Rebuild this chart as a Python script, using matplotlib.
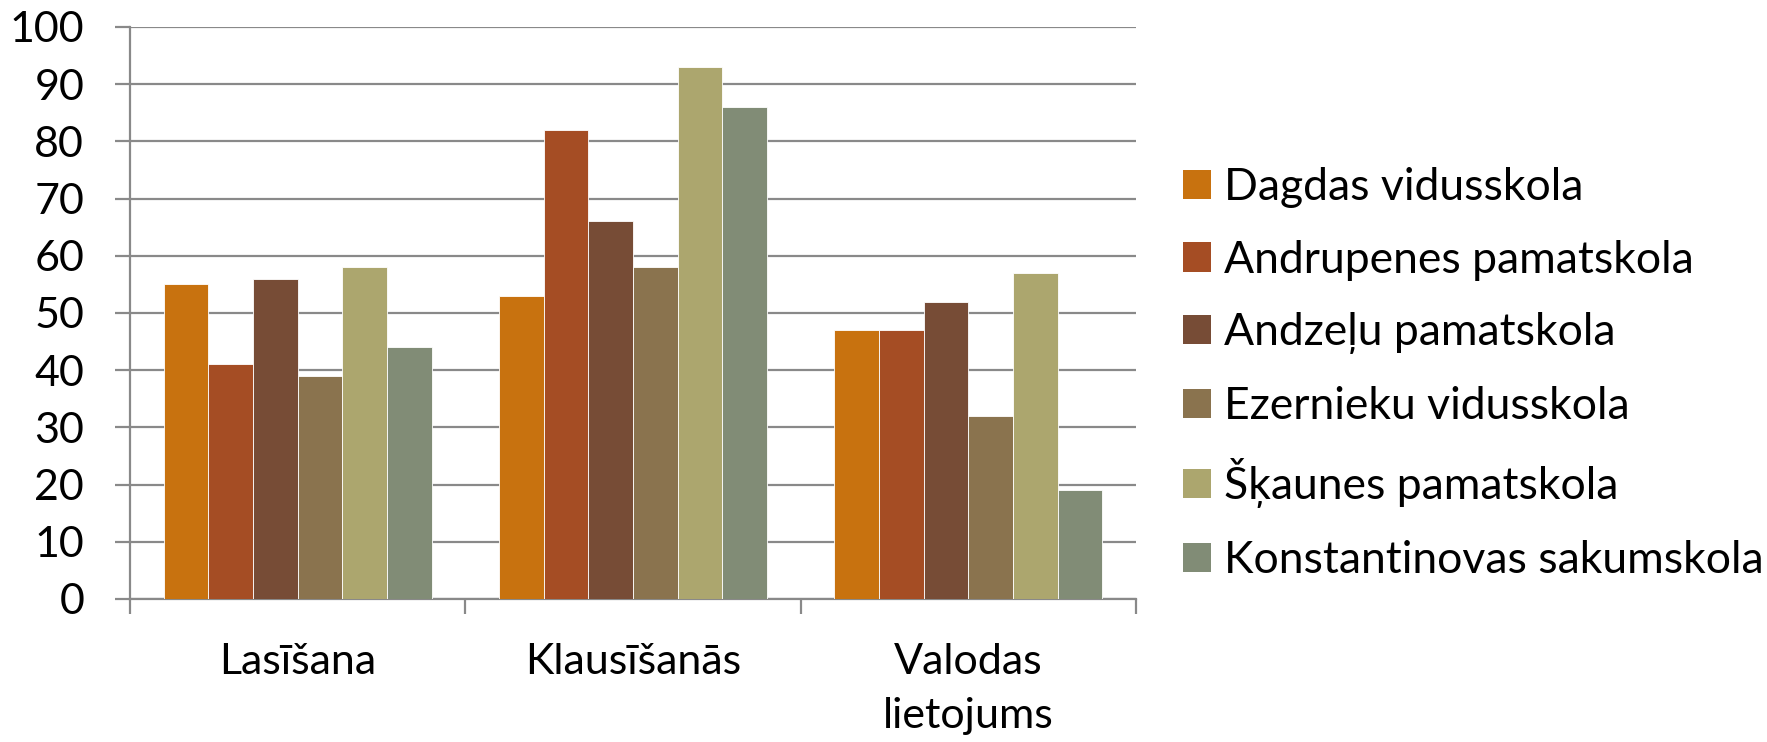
import matplotlib
matplotlib.use("Agg")
import matplotlib.pyplot as plt
from matplotlib.patches import Patch
import numpy as np

categories = ["Lasīšana", "Klausīšanās", "Valodas\nlietojums"]
schools = ["Dagdas vidusskola", "Andrupenes pamatskola", "Andzeļu pamatskola",
           "Ezernieku vidusskola", "Šķaunes pamatskola", "Konstantinovas sakumskola"]
dagdas = [55, 53, 47]
andrupenes = [41, 82, 47]
andzelu = [56, 66, 52]
ezernieku = [39, 58, 32]
skaunes = [58, 93, 57]
konstantinovas = [44, 86, 19]
series = [dagdas, andrupenes, andzelu, ezernieku, skaunes, konstantinovas]
colors = ["#C8720F", "#A54D24", "#774C36", "#8A734E", "#ACA66E", "#818C76"]
yticks = list(range(0, 101, 10))

plt.rcParams['font.family'] = ['Lato', 'DejaVu Sans']

fig = plt.figure(figsize=(17.67, 7.42), dpi=100)
ax = fig.add_axes([130/1767, 1-599/742, (1136-130)/1767, (599-27)/742])

n = len(series)
group = 0.8
w = group / n
x = np.arange(len(categories))
for i, (vals, c) in enumerate(zip(series, colors)):
    ax.bar(x - group/2 + w*(i+0.5), vals, width=w, color=c,
           edgecolor="#FFFFFF", linewidth=0.6, zorder=3, label=schools[i])

ax.set_xlim(-0.5, len(categories)-0.5)
ax.set_ylim(0, 100)
ax.set_yticks(yticks)
ax.yaxis.grid(True, color="#898989", linewidth=1.6, zorder=0)
ax.set_axisbelow(True)
for s in ["top", "right"]:
    ax.spines[s].set_visible(False)
for s in ["left", "bottom"]:
    ax.spines[s].set_color("#898989")
    ax.spines[s].set_linewidth(1.6)

fs = 31
ax.tick_params(axis='y', length=11, width=1.6, color="#898989", labelsize=fs, pad=22)
ax.set_xticks(np.arange(len(categories)+1) - 0.5)
ax.set_xticklabels([])
ax.tick_params(axis='x', which='major', length=11, width=1.6, color="#898989")
ax.set_xticks(x, minor=True)
ax.set_xticklabels(categories, minor=True, fontsize=fs, linespacing=1.5)
ax.tick_params(axis='x', which='minor', length=0, pad=32)

lfs = 32
handles = [Patch(facecolor=c, edgecolor='none') for c in colors]
fig.legend(handles, schools, loc='center left', bbox_to_anchor=(1183/1767, 1-374/742),
           frameon=False, fontsize=lfs, handlelength=0.63, handleheight=0.63,
           handletextpad=0.3, labelspacing=0.71, borderaxespad=0, borderpad=0)

fig.savefig("out.png", dpi=100)
